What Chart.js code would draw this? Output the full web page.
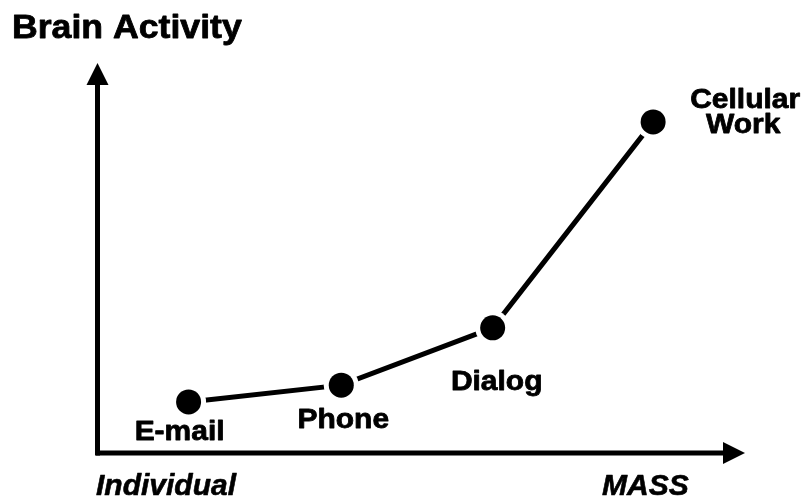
<!DOCTYPE html>
<html>
<head>
<meta charset="utf-8">
<script src="https://cdn.jsdelivr.net/npm/chart.js@4/dist/chart.umd.min.js"></script>
<style>
  html, body { margin: 0; padding: 0; background: #ffffff; }
  #wrap { width: 810px; height: 504px; }
</style>
</head>
<body>
<div id="wrap"><canvas id="c" width="810" height="504"></canvas></div>
<script>
// ---- data ----
const categories = ['E-mail', 'Phone', 'Dialog', 'Cellular Work'];
const labelLines = [['E-mail'], ['Phone'], ['Dialog'], ['Cellular', 'Work']];
const massPosition = [14.0, 37.6, 61.0, 85.8];      // position along Individual → MASS axis (0–100)
const brainActivity = [13.1, 17.4, 32.1, 84.9];     // brain activity (0–100)
const yAxisTitle = 'Brain Activity';
const xAxisStart = 'Individual';
const xAxisEnd = 'MASS';

// label placement relative to each point (style only)
const labelOffsets = [
  [[-9, 38]],
  [[2, 43]],
  [[4, 62]],
  [[92, -14], [90, 11]]
];

const points = massPosition.map((x, i) => ({ x: x, y: brainActivity[i] }));

const FONT = '"Liberation Sans", Arial, Helvetica, sans-serif';

function heavyText(ctx, text, x, y, w) {
  ctx.lineWidth = w;
  ctx.lineJoin = 'round';
  ctx.strokeText(text, x, y);
  ctx.fillText(text, x, y);
}

const decor = {
  id: 'decor',
  afterDraw(chart) {
    const ctx = chart.ctx;
    const xs = chart.scales.x, ys = chart.scales.y;
    const x0 = xs.getPixelForValue(0), x1 = xs.getPixelForValue(100);
    const y0 = ys.getPixelForValue(0), y1 = ys.getPixelForValue(100);
    ctx.save();
    ctx.fillStyle = '#000';
    ctx.strokeStyle = '#000';
    ctx.lineWidth = 5;
    ctx.lineCap = 'butt';
    // x axis
    ctx.beginPath();
    ctx.moveTo(x0 - 2, y0);
    ctx.lineTo(x1 - 20, y0);
    ctx.stroke();
    ctx.beginPath();
    ctx.moveTo(x1, y0);
    ctx.lineTo(x1 - 22, y0 - 11);
    ctx.lineTo(x1 - 22, y0 + 11);
    ctx.closePath();
    ctx.fill();
    // y axis
    ctx.beginPath();
    ctx.moveTo(x0 - 0.5, y0 + 2.5);
    ctx.lineTo(x0 - 0.5, y1 + 20);
    ctx.stroke();
    ctx.beginPath();
    ctx.moveTo(x0 - 0.5, y1);
    ctx.lineTo(x0 - 11.5, y1 + 22);
    ctx.lineTo(x0 + 10.5, y1 + 22);
    ctx.closePath();
    ctx.fill();

    // title
    ctx.textBaseline = 'alphabetic';
    ctx.textAlign = 'left';
    ctx.save();
    ctx.translate(12, 38);
    ctx.scale(1.08, 1);
    ctx.font = 'bold 33px ' + FONT;
    heavyText(ctx, yAxisTitle, 0, 0, 0.8);
    ctx.restore();

    // axis end labels
    ctx.font = 'italic bold 30px ' + FONT;
    ctx.textAlign = 'left';
    heavyText(ctx, xAxisStart, 96, 495, 0.6);
    heavyText(ctx, xAxisEnd, 602, 495, 0.6);

    // point labels
    ctx.textAlign = 'center';
    ctx.font = 'bold 28px ' + FONT;
    const meta = chart.getDatasetMeta(1);
    meta.data.forEach((el, i) => {
      labelLines[i].forEach((line, j) => {
        const off = labelOffsets[i][j];
        ctx.save();
        ctx.translate(el.x + off[0], el.y + off[1]);
        ctx.scale(1.07, 1);
        heavyText(ctx, line, 0, 0, 0.8);
        ctx.restore();
      });
    });
    ctx.restore();
  }
};

new Chart(document.getElementById('c'), {
  type: 'scatter',
  data: {
    labels: categories,
    datasets: [
      {
        label: 'line',
        data: points,
        showLine: true,
        borderColor: '#000',
        borderWidth: 5,
        pointRadius: 17.5,
        pointBackgroundColor: '#fff',
        pointBorderWidth: 0,
        pointHoverRadius: 17.5,
        clip: false,
        order: 2
      },
      {
        label: 'dots',
        data: points,
        showLine: false,
        pointRadius: 12.5,
        pointBackgroundColor: '#000',
        pointBorderWidth: 0,
        pointHoverRadius: 12.5,
        clip: false,
        order: 1
      }
    ]
  },
  options: {
    responsive: false,
    animation: false,
    events: [],
    layout: { padding: { left: 98, right: 65, top: 63, bottom: 51 } },
    plugins: { legend: { display: false }, title: { display: false }, tooltip: { enabled: false } },
    scales: {
      x: { type: 'linear', min: 0, max: 100, display: false },
      y: { type: 'linear', min: 0, max: 100, display: false }
    }
  },
  plugins: [decor]
});
</script>
</body>
</html>
